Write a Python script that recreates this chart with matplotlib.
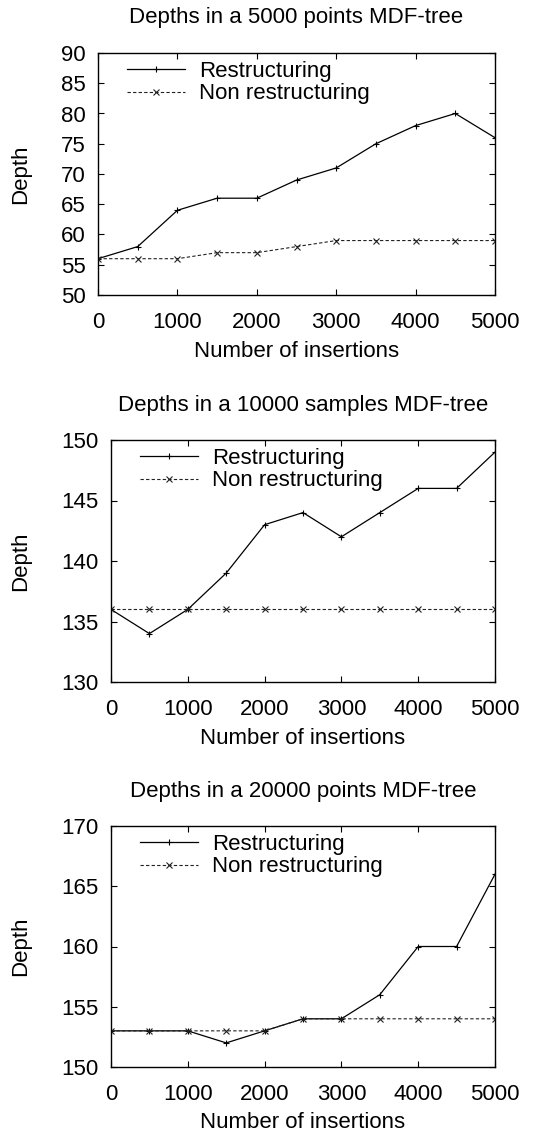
import matplotlib
matplotlib.use("Agg")
import matplotlib.pyplot as plt

plt.rcParams['font.family'] = ['Liberation Sans', 'DejaVu Sans']

# Data
insertions = [0, 500, 1000, 1500, 2000, 2500, 3000, 3500, 4000, 4500, 5000]

restr_5000 = [56, 58, 64, 66, 66, 69, 71, 75, 78, 80, 76]
nonrestr_5000 = [56, 56, 56, 57, 57, 58, 59, 59, 59, 59, 59]

restr_10000 = [136, 134, 136, 139, 143, 144, 142, 144, 146, 146, 149]
nonrestr_10000 = [136, 136, 136, 136, 136, 136, 136, 136, 136, 136, 136]

restr_20000 = [153, 153, 153, 152, 153, 154, 154, 156, 160, 160, 166]
nonrestr_20000 = [153, 153, 153, 153, 153, 154, 154, 154, 154, 154, 154]

titles = ["Depths in a 5000 points MDF-tree",
          "Depths in a 10000 samples MDF-tree",
          "Depths in a 20000 points MDF-tree"]
ylims = [(50, 90), (130, 150), (150, 170)]
ysteps = [5, 5, 5]

W, H = 539, 1135
fig = plt.figure(figsize=(W / 100, H / 100), dpi=100)

# axes boxes in pixels: left, right, top, bottom
boxes = [(98, 495, 53, 295), (111, 495, 440, 682), (111, 495, 826, 1067)]
title_y = [18, 405, 792]
xlabel_y = [352, 738, 1123]
series = [(restr_5000, nonrestr_5000), (restr_10000, nonrestr_10000),
          (restr_20000, nonrestr_20000)]

fs = 16
for i in range(3):
    l, r, t, b = boxes[i]
    ax = fig.add_axes([l / W, 1 - b / H, (r - l) / W, (b - t) / H])
    rs, nr = series[i]
    ax.plot(insertions, rs, color='black', lw=0.9, marker='+', ms=5, mew=0.8,
            label='Restructuring')
    ax.plot(insertions, nr, color='#222222', lw=0.8, ls=(0, (3, 2)), marker='x',
            ms=4, mew=0.8, label='Non restructuring')
    ax.set_xlim(0, 5000)
    ax.set_ylim(*ylims[i])
    ax.set_xticks(range(0, 5001, 1000))
    ax.set_yticks(range(ylims[i][0], ylims[i][1] + 1, ysteps[i]))
    ax.tick_params(direction='in', top=True, right=True, length=4, width=0.8,
                   labelsize=fs)
    ax.tick_params(axis='x', pad=12)
    ax.tick_params(axis='y', pad=9)
    for s in ax.spines.values():
        s.set_linewidth(1.0)
    ax.legend(loc='upper left',
              bbox_to_anchor=(27 / (r - l), 1.0 - 6 / (b - t)),
              frameon=False, fontsize=fs, handlelength=2.6,
              handletextpad=0.63, labelspacing=0.05, borderpad=0.1,
              borderaxespad=0)
    fig.text((l + r) / 2 / W, 1 - title_y[i] / H, titles[i], ha='center',
             va='center', fontsize=fs)
    fig.text((l + r) / 2 / W, 1 - xlabel_y[i] / H, 'Number of insertions',
             ha='center', va='center', fontsize=fs)
    fig.text(21 / W, 1 - (t + b) / 2 / H, 'Depth', rotation=90, ha='center',
             va='center', fontsize=fs)

fig.savefig('out.png', dpi=100)
